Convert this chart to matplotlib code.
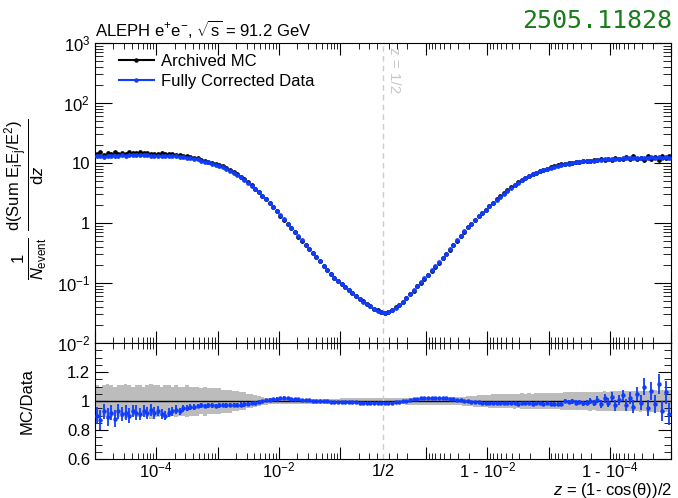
import numpy as np
import matplotlib
matplotlib.use('Agg')
import matplotlib.pyplot as plt
from matplotlib.lines import Line2D

plt.rcParams['font.family'] = ['Liberation Sans', 'DejaVu Sans']
plt.rcParams['mathtext.fontset'] = 'custom'
plt.rcParams['mathtext.rm'] = 'Liberation Sans'
plt.rcParams['mathtext.it'] = 'Liberation Sans:italic'
plt.rcParams['mathtext.bf'] = 'Liberation Sans:bold'
plt.rcParams['mathtext.sf'] = 'Liberation Sans'

# ---- data ----
n_half = 80  # log bins per half, from 1e-5 to 1/2 in z and in 1-z

# log10 of 1/N dEEC/dz, data (blue), z < 1/2 (left to right)
eec_log_left = [1.11, 1.12, 1.10, 1.12, 1.11, 1.12, 1.11, 1.13, 1.12, 1.14,
                1.13, 1.13, 1.14, 1.13, 1.13, 1.12, 1.12, 1.12, 1.12, 1.11,
                1.11, 1.11, 1.11, 1.10, 1.10, 1.09, 1.08,
                1.07, 1.06, 1.04, 1.02, 1.01, 0.99, 0.97, 0.95, 0.93, 0.90,
                0.87, 0.84, 0.80, 0.76, 0.72, 0.67, 0.62, 0.57, 0.51, 0.45,
                0.40, 0.33, 0.27, 0.20, 0.13, 0.06, -0.01, -0.08, -0.15, -0.22,
                -0.29, -0.36, -0.43, -0.50, -0.57, -0.64, -0.71, -0.78, -0.85, -0.91,
                -0.96, -1.02, -1.07, -1.12, -1.17, -1.22, -1.27, -1.31, -1.35, -1.39,
                -1.43, -1.46, -1.49]
# z > 1/2, from the centre out to 1 - 1e-5
eec_log_right = [-1.50, -1.48, -1.45, -1.41, -1.36, -1.31, -1.25, -1.18, -1.12, -1.05,
                 -0.99, -0.92, -0.86, -0.79, -0.72, -0.65, -0.58, -0.51, -0.44, -0.36,
                 -0.29, -0.21, -0.14, -0.07, -0.01, 0.05, 0.11, 0.17, 0.22, 0.28,
                 0.33, 0.39, 0.44, 0.49, 0.54, 0.59, 0.63, 0.67, 0.71, 0.75,
                 0.78, 0.81, 0.83, 0.86, 0.88, 0.90, 0.92, 0.94, 0.95, 0.97,
                 0.98, 0.99, 1.00, 1.01, 1.02, 1.03, 1.03, 1.04, 1.04, 1.05,
                 1.05, 1.06, 1.06, 1.07, 1.07, 1.07, 1.08, 1.08, 1.08, 1.09,
                 1.09, 1.08, 1.09, 1.09, 1.10, 1.09, 1.10, 1.09, 1.10, 1.08]

# ratio panel (blue points) and their errors
ratio_left = [0.90, 0.87, 0.93, 0.89, 0.92, 0.88, 0.93, 0.91, 0.92, 0.90,
              0.93, 0.92, 0.91, 0.93, 0.92, 0.94, 0.92,
              0.93, 0.91, 0.90, 0.92, 0.93, 0.94, 0.93, 0.95, 0.95, 0.96, 0.96,
              0.965, 0.97, 0.965, 0.97, 0.97, 0.968, 0.97, 0.972, 0.97, 0.972,
              0.974, 0.975, 0.976, 0.978, 0.98,
              0.985, 0.99, 0.995, 1.0, 1.005, 1.01, 1.015, 1.018, 1.02, 1.022,
              1.02, 1.018, 1.015, 1.012, 1.01, 1.008, 1.005, 1.004, 1.003, 1.002, 1.0,
              0.998, 0.996, 0.995, 0.994, 0.993, 0.992, 0.992, 0.991, 0.991, 0.99,
              0.99, 0.99, 0.99, 0.99, 0.99, 0.99]
ratio_err_left = [0.06, 0.07, 0.05, 0.06, 0.05, 0.06, 0.05, 0.05, 0.05, 0.05,
                  0.04, 0.05, 0.04, 0.04, 0.04, 0.04, 0.04,
                  0.035, 0.035, 0.03, 0.03, 0.03, 0.03, 0.025, 0.025, 0.02, 0.02, 0.02,
                  0.015, 0.015, 0.015, 0.015, 0.015, 0.015, 0.015, 0.015, 0.015, 0.015,
                  0.015, 0.015, 0.015, 0.015, 0.015,
                  0.01, 0.01, 0.01, 0.01, 0.01, 0.01, 0.01, 0.01, 0.01, 0.01,
                  0.005, 0.005, 0.005, 0.005, 0.005, 0.005, 0.005, 0.005, 0.005, 0.005,
                  0.005, 0.005, 0.005, 0.005, 0.005, 0.005, 0.005, 0.005, 0.005, 0.005,
                  0.005, 0.005, 0.005, 0.005, 0.005, 0.005, 0.005]
ratio_right = [0.99, 0.99, 0.99, 0.992, 0.995, 0.998,
               1.003, 1.008, 1.012, 1.016, 1.02, 1.022, 1.024, 1.025,
               1.025, 1.024, 1.022, 1.02, 1.017, 1.014, 1.01, 1.007, 1.004, 1.0, 0.997,
               0.994, 0.992, 0.99, 0.989, 0.988, 0.987, 0.986, 0.986, 0.985, 0.985,
               0.984, 0.984, 0.983, 0.984, 0.985, 0.984, 0.983, 0.984, 0.985, 0.983,
               0.984, 0.982, 0.983, 0.982, 0.98,
               1.0, 0.995, 0.998, 0.99, 0.995, 0.985, 0.99, 1.0,
               0.985, 1.01, 0.98, 1.02, 0.99, 1.03, 0.97, 1.005, 1.04, 0.975, 1.02, 0.96,
               1.05, 0.99, 1.10, 0.95, 1.07, 0.98, 1.12, 0.93, 1.06, 0.91]
ratio_err_right = [0.005, 0.005, 0.005, 0.005, 0.005, 0.005, 0.005, 0.005, 0.005, 0.005,
                   0.005, 0.005, 0.005, 0.005, 0.005, 0.005, 0.005, 0.005, 0.005, 0.005,
                   0.005, 0.005, 0.005, 0.005, 0.005,
                   0.006, 0.006, 0.006, 0.007, 0.007, 0.007, 0.007, 0.008, 0.008, 0.008,
                   0.008, 0.008, 0.009, 0.009, 0.009, 0.009, 0.009, 0.01, 0.01, 0.01,
                   0.01, 0.01, 0.01, 0.011, 0.011,
                   0.012, 0.012, 0.015, 0.015, 0.015, 0.018, 0.018, 0.02,
                   0.02, 0.025, 0.025, 0.03, 0.03, 0.03, 0.035, 0.035, 0.04, 0.04, 0.04, 0.045,
                   0.05, 0.05, 0.06, 0.055, 0.06, 0.065, 0.07, 0.07, 0.08, 0.075]

# MC statistical band (half width around 1)
band_left = [0.11, 0.10, 0.11, 0.12, 0.11, 0.10, 0.11, 0.11, 0.12, 0.11,
             0.10, 0.11, 0.11, 0.10, 0.11, 0.12, 0.11, 0.11, 0.10, 0.11,
             0.11, 0.10, 0.11, 0.10, 0.10, 0.11, 0.10, 0.10, 0.10, 0.09,
             0.10, 0.09, 0.09, 0.09, 0.09, 0.08, 0.08, 0.08, 0.07,
             0.07, 0.06, 0.06, 0.05, 0.05, 0.04, 0.035, 0.03, 0.025,
             0.02, 0.02, 0.02, 0.02, 0.02, 0.018, 0.018, 0.018, 0.018, 0.018,
             0.018, 0.018, 0.018, 0.018, 0.018, 0.018, 0.018, 0.018, 0.018, 0.018,
             0.02, 0.02, 0.02, 0.02, 0.02, 0.02, 0.02, 0.02, 0.022, 0.022,
             0.022, 0.022]
band_right = [0.022, 0.022, 0.022, 0.023, 0.023, 0.023, 0.024, 0.024, 0.024, 0.025,
              0.025, 0.025, 0.025, 0.026, 0.026, 0.026, 0.027, 0.027, 0.028, 0.028,
              0.029, 0.03, 0.031,
              0.033, 0.035, 0.037, 0.039, 0.041, 0.043, 0.045, 0.046, 0.047, 0.048,
              0.049, 0.05,
              0.05, 0.052, 0.05, 0.053, 0.051, 0.054, 0.052, 0.055, 0.053, 0.055,
              0.054, 0.056, 0.055, 0.057, 0.058,
              0.06, 0.062, 0.061, 0.063, 0.062, 0.064, 0.063, 0.065, 0.064, 0.066,
              0.065, 0.067, 0.066, 0.068, 0.067, 0.069, 0.068, 0.07, 0.069, 0.071,
              0.07, 0.072, 0.071, 0.073, 0.072, 0.074, 0.073, 0.075, 0.074, 0.076]

# ---- axis coordinate: log10(z) on the left, mirrored log10(1-z) on the right ----
half = np.log10(0.5)
c = 2 * half
edges_l = np.linspace(-5, half, n_half + 1)
u_left = 0.5 * (edges_l[1:] + edges_l[:-1])
w = edges_l[1] - edges_l[0]
u_right = c - u_left[::-1]          # bins mirrored about z = 1/2
u = np.concatenate([u_left, u_right])

data = 10 ** np.concatenate([eec_log_left, eec_log_right])
ratio = np.array(ratio_left + ratio_right)
ratio_err = np.array(ratio_err_left + ratio_err_right)
band = np.array(band_left + band_right)
mc = data / ratio

blue = '#0f3cff'

fig = plt.figure(figsize=(6.78, 4.98), dpi=100)
ax = fig.add_axes([0.140, 0.311, 0.850, 0.603])
axr = fig.add_axes([0.140, 0.078, 0.850, 0.233], sharex=ax)

ax.plot(u, mc, 'o', color='black', ms=2.4, zorder=2)
ax.plot(u, data, 'o', color=blue, ms=2.4, zorder=3)
ax.set_yscale('log')
ax.set_ylim(1e-2, 1e3)
ax.set_xlim(-5, c + 5)

ax.axvline(half, color='#cccccc', lw=1, ls=(0, (4, 3)), zorder=1)
ax.text(half + 0.07, 1e3 * 0.85, 'z = 1/2', rotation=-90, color='#c8c8c8',
        fontsize=11, ha='left', va='top')

# ratio panel
axr.bar(u, 2 * band, bottom=1 - band, width=w, color='#bcbcbc', linewidth=0, zorder=1)
axr.axhline(1, color='black', lw=1, zorder=2)
axr.axvline(half, color='#cccccc', lw=1, ls=(0, (4, 3)), zorder=2)
axr.errorbar(u, ratio, yerr=ratio_err, fmt='o', ms=2.2, color=blue,
             elinewidth=1.3, capsize=0, zorder=3)
axr.set_ylim(0.6, 1.4)

# x ticks
dec = [-5, -4, -3, -2, -1]
major_x = dec + [c - k for k in dec]
minor_x = []
for k in dec:
    for m in range(2, 10):
        v = k + np.log10(m)
        if v < half:
            minor_x.append(v)
            minor_x.append(c - v)
for a in (ax, axr):
    a.set_xticks(major_x)
    a.set_xticks(minor_x, minor=True)
    a.tick_params(axis='both', which='both', direction='in', top=True, right=True,
                  labelsize=12)
    a.tick_params(axis='x', which='major', length=8.5)
    a.tick_params(axis='x', which='minor', length=4.5)
ax.tick_params(axis='x', labelbottom=False)

xlab = {-4: r'$10^{-4}$', -2: r'$10^{-2}$', c + 2: r'1 - $10^{-2}$', c + 4: r'1 - $10^{-4}$'}
axr.set_xticklabels([xlab.get(t, '') for t in major_x])
axr.tick_params(axis='x', pad=1)
axr.text(half, -0.04, '1/2', transform=axr.get_xaxis_transform(), ha='center',
         va='top', fontsize=12)

# y ticks
ax.set_yticks([1e-2, 1e-1, 1, 10, 1e2, 1e3])
ax.set_yticklabels([r'$10^{-2}$', r'$10^{-1}$', '1', '10', r'$10^{2}$', r'$10^{3}$'])
ax.set_yticks([m * 10.0 ** k for k in range(-2, 3) for m in range(2, 10)], minor=True)
ax.tick_params(axis='y', which='major', length=12)
ax.tick_params(axis='y', which='minor', length=5.5)

axr.set_yticks([0.6, 0.8, 1.0, 1.2])
axr.set_yticklabels(['0.6', '0.8', '1', '1.2'])
axr.set_yticks(np.arange(0.65, 1.4, 0.05), minor=True)
axr.tick_params(axis='y', which='major', length=9.5)
axr.tick_params(axis='y', which='minor', length=5)

# labels
ax.set_ylabel(r'$\frac{1}{N_{\mathrm{event}}}\;\frac{\mathrm{d(Sum\ E_{i}E_{j}/E^{2})}}{\mathrm{d}z}$',
              fontsize=17)
ax.yaxis.set_label_coords(-0.078, 0.48)
axr.set_ylabel('MC/Data', fontsize=12)
axr.yaxis.set_label_coords(-0.105, 0.5)
fig.text(0.991, 0.016, r'$z$ = (1- cos(θ))/2', ha='right', va='center', fontsize=12)

ax.text(0.0, 1.008, r'ALEPH e$^{+}$e$^{-}$, $\sqrt{\mathrm{s}}$ = 91.2 GeV', transform=ax.transAxes,
        ha='left', va='bottom', fontsize=12)
fig.text(0.991, 0.958, '2505.11828', ha='right', va='center', fontsize=18,
         family='DejaVu Sans Mono', color='#1b7a1b')

handles = [Line2D([], [], color='black', marker='o', ms=2.2, lw=1.5),
           Line2D([], [], color=blue, marker='o', ms=2.2, lw=1.5)]
ax.legend(handles, ['Archived MC', 'Fully Corrected Data'], loc='upper left',
          bbox_to_anchor=(0.03, 0.985), frameon=False, fontsize=12,
          handlelength=2.1, handletextpad=0.4, labelspacing=0.3, borderaxespad=0)

fig.savefig('out.png', dpi=100)
